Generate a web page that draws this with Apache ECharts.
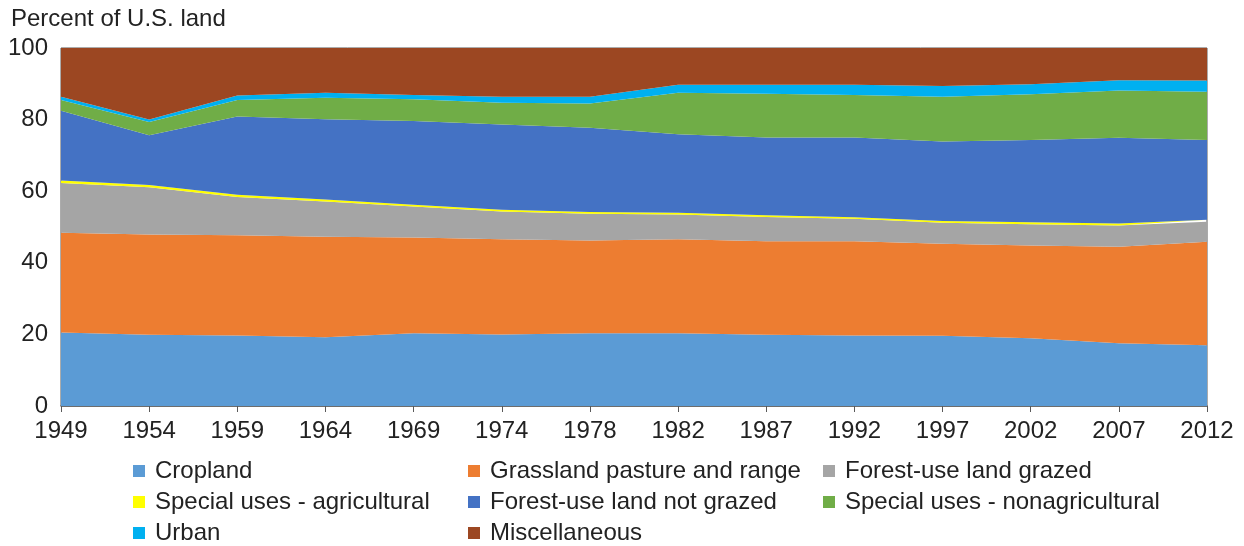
<!DOCTYPE html>
<html><head><meta charset="utf-8">
<script src="https://cdn.jsdelivr.net/npm/echarts@6/dist/echarts.min.js"></script>
<style>html,body{margin:0;padding:0;background:#fff}#c{width:1244px;height:546px}</style>
</head><body><div id="c"></div>
<script>
const years = ['1949','1954','1959','1964','1969','1974','1978','1982','1987','1992','1997','2002','2007','2012'];
const cropland    = [20.5,19.9,19.7,19.2,20.3,20.0,20.3,20.3,19.9,19.7,19.6,18.9,17.5,17.0];
const grassland   = [27.9,28.0,28.0,28.1,26.8,26.6,25.9,26.3,26.1,26.3,25.7,25.9,27.0,28.9];
const forestGrazed= [13.9,13.2,10.7,9.8,8.6,7.7,7.5,6.9,6.8,6.3,5.9,6.0,5.9,5.6];
const specialAg   = [0.7,0.6,0.6,0.6,0.5,0.5,0.5,0.5,0.5,0.4,0.5,0.5,0.6,0.5];
const forestNotGrazed=[19.5,13.9,21.9,22.4,23.4,23.8,23.5,21.9,21.7,22.3,22.2,23.0,23.9,22.3];
const specialNonAg= [3.0,3.7,4.6,6.0,6.1,6.1,6.8,11.6,12.2,11.9,12.5,12.8,13.2,13.5];
const urban       = [0.9,0.7,1.2,1.4,1.2,1.7,1.9,2.2,2.5,2.8,3.0,2.8,2.9,3.1];
const misc        = [13.6,20.0,13.3,12.5,13.1,13.6,13.6,10.3,10.3,10.3,10.6,10.1,9.0,9.1];
const yTicks = [0,20,40,60,80,100];

const names = ['Cropland','Grassland pasture and range','Forest-use land grazed','Special uses - agricultural','Forest-use land not grazed','Special uses - nonagricultural','Urban','Miscellaneous'];
const values = [cropland,grassland,forestGrazed,specialAg,forestNotGrazed,specialNonAg,urban,misc];
const colors = ['#5B9BD5','#ED7D31','#A5A5A5','#FFFF00','#4472C4','#70AD47','#00B0F0','#9C4722'];

const FONT = 'Liberation Sans, Arial, sans-serif';
const FS = 24;
const chart = echarts.init(document.getElementById('c'), null, {renderer:'canvas'});
const colX = [133, 468, 823];
const rowY = [459, 490, 521];
const legends = names.map((n,i)=>({
  orient:'horizontal', icon:'rect', itemWidth:12, itemHeight:12,
  textStyle:{fontFamily:FONT, fontSize:FS, color:'#222', padding:[0,0,0,5]},
  selectedMode:false, left:colX[i%3], top:rowY[Math.floor(i/3)], padding:0, data:[n]
}));
chart.setOption({
  animation:false,
  color: colors,
  title:{text:'Percent of U.S. land', left:11, top:7, padding:0, textStyle:{fontFamily:FONT, fontSize:FS, fontWeight:'normal', color:'#222'}},
  grid:{left:61, right:37, top:48, bottom:140, show:true, borderColor:'#595959', borderWidth:1, backgroundColor:'transparent'},
  legend: legends,
  xAxis:{type:'category', data:years, boundaryGap:false,
    axisLine:{lineStyle:{color:'#595959', width:1.5}},
    axisTick:{show:true, length:6, lineStyle:{color:'#595959'}},
    axisLabel:{fontFamily:FONT, fontSize:FS, color:'#222', margin:13}},
  yAxis:{type:'value', min:yTicks[0], max:yTicks[yTicks.length-1], interval:20,
    axisLine:{show:false}, axisTick:{show:false}, splitLine:{show:false},
    axisLabel:{fontFamily:FONT, fontSize:FS, color:'#222', margin:13}},
  series: names.map((n,i)=>({
    name:n, type:'line', stack:'total', data:values[i], showSymbol:false, symbol:'none',
    lineStyle:{width:0}, areaStyle:{color:colors[i], opacity:1}, itemStyle:{color:colors[i]}
  }))
});
</script></body></html>
